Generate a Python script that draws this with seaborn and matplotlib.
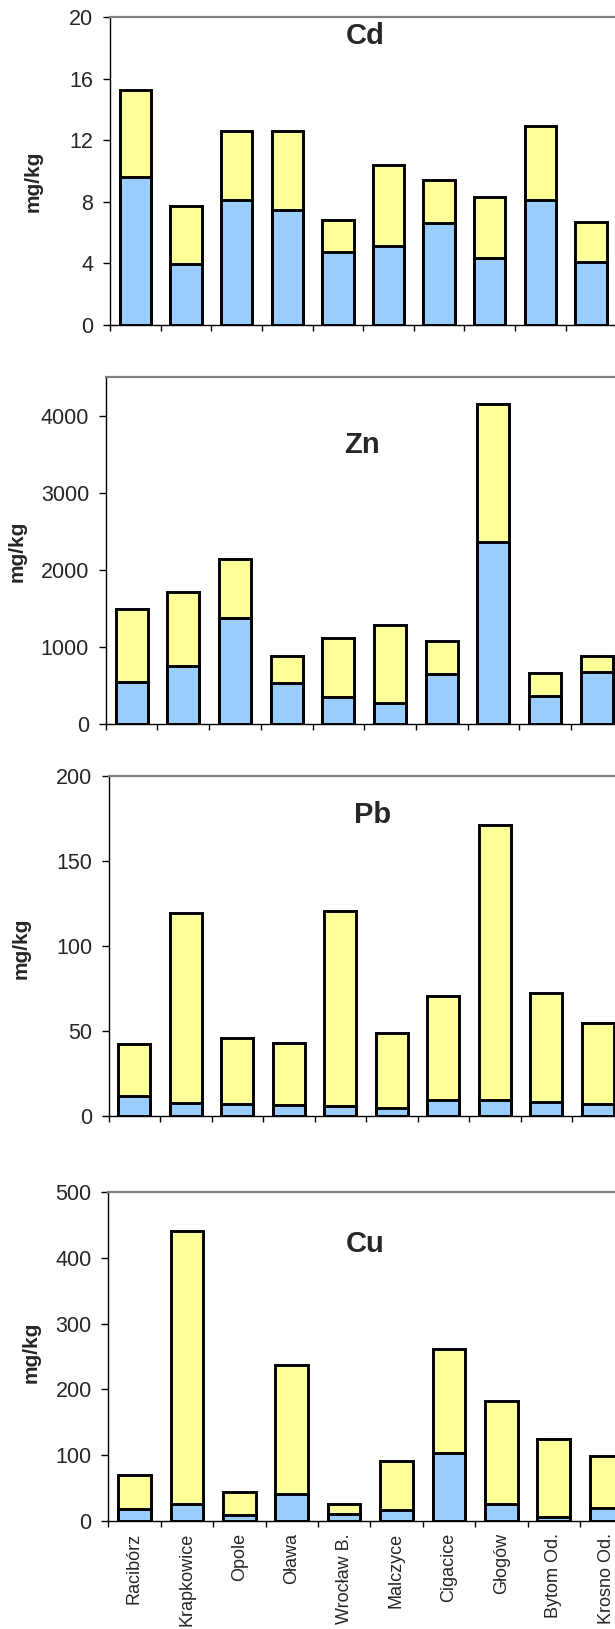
import numpy as np
import pandas as pd
import matplotlib
matplotlib.use("Agg")
import matplotlib.pyplot as plt
import seaborn as sns

# Sampling sites along the river
sites = ["Racibórz", "Krapkowice", "Opole", "Oława", "Wrocław B.",
         "Malczyce", "Cigacice", "Głogów", "Bytom Od.", "Krosno Od."]

# Metal content (mg/kg): lower (blue) part and upper (yellow) part of each bar
cd_blue = [9.6, 3.95, 8.15, 7.45, 4.75, 5.15, 6.65, 4.35, 8.15, 4.1]
cd_yellow = [5.7, 3.8, 4.45, 5.15, 2.1, 5.25, 2.8, 3.95, 4.8, 2.6]

zn_blue = [545, 755, 1385, 530, 360, 270, 655, 2365, 370, 675]
zn_yellow = [945, 965, 755, 350, 755, 1020, 425, 1785, 295, 205]

pb_blue = [11.6, 7.6, 7.1, 6.7, 5.9, 4.9, 9.4, 9.2, 8.2, 6.9]
pb_yellow = [30.5, 111.7, 38.7, 36.2, 114.8, 44.1, 61.3, 161.6, 63.9, 47.8]

cu_blue = [18, 27, 10, 41, 10.5, 17, 103.5, 26, 6.5, 20]
cu_yellow = [52.5, 413.5, 34.5, 196, 16.5, 74, 158.5, 156, 118.5, 79]

metals = ["Cd", "Zn", "Pb", "Cu"]
y_max = [20, 4000, 200, 500]
y_lim = [20, 4500, 200, 500]
y_step = [4, 1000, 50, 100]

sns.set_style("white")
plt.rcParams["font.family"] = ["Liberation Sans", "DejaVu Sans"]

BLUE = "#99CCFF"
YELLOW = "#FFFF99"
W, H = 615, 1629

# axes boxes in pixels: left, width, top, bottom
boxes = [(110, 506.3, 17.3, 325.0),
         (105.7, 517.0, 377.3, 724.3),
         (108.7, 515.0, 775.7, 1116.0),
         (108.3, 524.0, 1191.7, 1521.3)]
# y-label centres and title positions (x centre, baseline) in pixels
ylab_pos = [(33, 181.7), (17.6, 551.3), (21, 948.7), (31.5, 1352.5)]
title_pos = [(365, 44.3), (362, 453.3), (373, 823.0), (365.6, 1251.7)]

data = {
    "Cd": (cd_blue, cd_yellow),
    "Zn": (zn_blue, zn_yellow),
    "Pb": (pb_blue, pb_yellow),
    "Cu": (cu_blue, cu_yellow),
}

fig = plt.figure(figsize=(W / 100, H / 100), dpi=100)

for i, metal in enumerate(metals):
    left, width, top, bottom = boxes[i]
    ax = fig.add_axes([left / W, 1 - bottom / H, width / W, (bottom - top) / H])
    blue, yellow = data[metal]
    df = pd.DataFrame({
        "site": sites,
        "lower": blue,
        "total": np.array(blue) + np.array(yellow),
    })
    # full-height bar in yellow, lower fraction in blue drawn over it
    sns.barplot(data=df, x="site", y="total", color=YELLOW, saturation=1,
                edgecolor="black", linewidth=2.1, width=0.62, errorbar=None,
                ax=ax, zorder=2)
    sns.barplot(data=df, x="site", y="lower", color=BLUE, saturation=1,
                edgecolor="black", linewidth=2.1, width=0.62, errorbar=None,
                ax=ax, zorder=3)

    ax.set_xlim(-0.5, len(sites) - 0.5)
    ax.set_ylim(0, y_lim[i])
    ax.set_yticks(np.arange(0, y_max[i] + 1, y_step[i]))
    ax.set_xticks(np.arange(-0.5, len(sites), 1.0))
    ax.set_xticklabels([""] * (len(sites) + 1))
    ax.tick_params(axis="x", which="major", direction="out", length=4,
                   width=1, color="black", bottom=True)
    ax.tick_params(axis="y", direction="out", length=5, width=1,
                   color="black", left=True, labelsize=15.5, pad=7)
    if metal == "Cu":
        ax.set_xticks(np.arange(len(sites)), minor=True)
        ax.set_xticklabels(sites, minor=True, rotation=90, fontsize=13)
        ax.tick_params(axis="x", which="minor", length=0, pad=8.5)

    ax.set_xlabel("")
    ax.set_ylabel("mg/kg", fontsize=15, fontweight="bold")
    ax.yaxis.label.set_va("center")
    x_l, y_l = ylab_pos[i]
    ax.yaxis.set_label_coords(x_l / W, 1 - y_l / H, transform=fig.transFigure)

    tx, ty = title_pos[i]
    fig.text(tx / W, 1 - ty / H, metal, ha="center", va="baseline",
             fontsize=21, fontweight="bold")

    for side in ["left", "bottom"]:
        ax.spines[side].set_color("black")
        ax.spines[side].set_linewidth(1.0)
    ax.spines["top"].set_color("#808080")
    ax.spines["top"].set_linewidth(1.6)
    ax.spines["right"].set_color("#e6e6e6")
    ax.spines["right"].set_linewidth(1.0)
    for s in ax.spines.values():
        s.set_visible(True)
        s.set_zorder(5)

fig.savefig("out.png", dpi=100)
